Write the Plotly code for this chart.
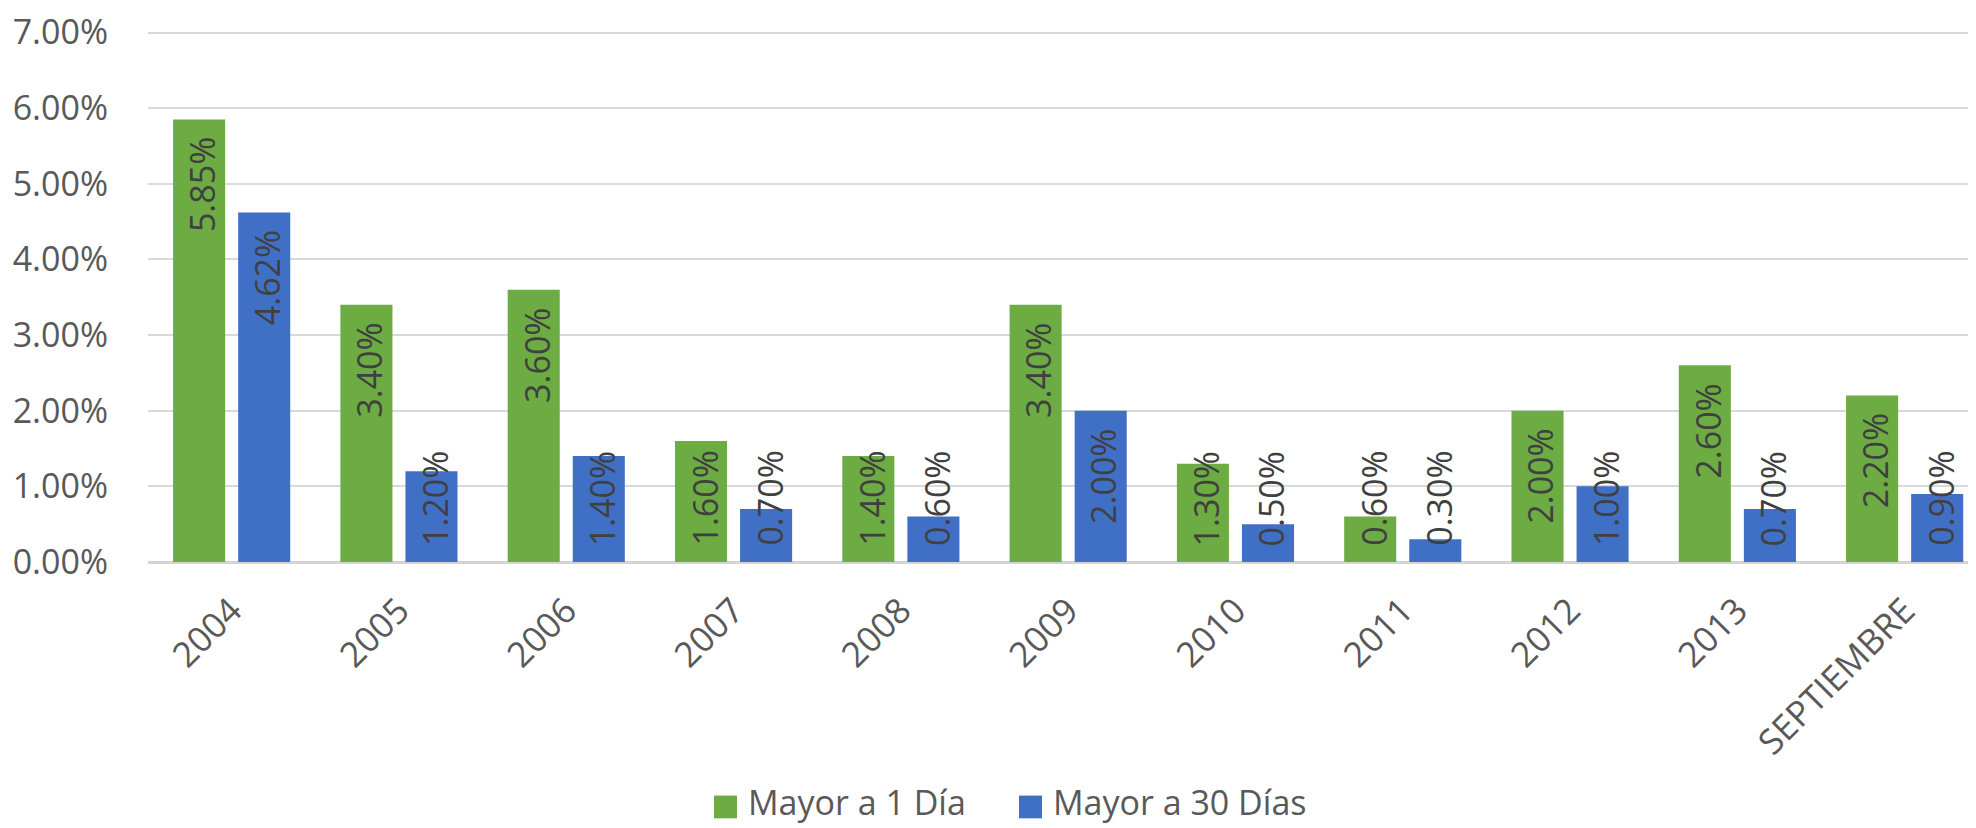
import plotly.graph_objects as go

categories = ["2004", "2005", "2006", "2007", "2008", "2009", "2010", "2011", "2012", "2013", "SEPTIEMBRE"]
mayor_1_dia = [0.0585, 0.034, 0.036, 0.016, 0.014, 0.034, 0.013, 0.006, 0.020, 0.026, 0.022]
mayor_30_dias = [0.0462, 0.012, 0.014, 0.007, 0.006, 0.020, 0.005, 0.003, 0.010, 0.007, 0.009]
series_names = ["Mayor a 1 Día", "Mayor a 30 Días"]
y_ticks = [0, 0.01, 0.02, 0.03, 0.04, 0.05, 0.06, 0.07]

GREEN = "#6cac43"
BLUE = "#4070c6"
TXT = "#404040"
AX = "#595959"
FONT = "Open Sans"
FS = 34

# page is 1976x828; the html body has an 8px margin, so the figure is 8px smaller
PAGE_OFF = 8
W, H = 1976 - PAGE_OFF, 828 - PAGE_OFF
MB = 266
ML, MR = 148 - PAGE_OFF, 0
Y_MAX = 0.07
Y_TOP = 0.0702
PX_PER_UNIT = 535 / Y_MAX
plot_h = PX_PER_UNIT * Y_TOP
MT = H - MB - plot_h
plot_w = W - ML - MR
LABEL_LEN_PX = 97  # approx rotated label length

fig = go.Figure()
idx = list(range(len(categories)))
fig.add_trace(go.Bar(x=idx, y=mayor_1_dia, name=series_names[0], marker=dict(color=GREEN, line=dict(width=0))))
fig.add_trace(go.Bar(x=idx, y=mayor_30_dias, name=series_names[1], marker=dict(color=BLUE, line=dict(width=0))))

half = 0.1945
annotations = []
for s, vals in enumerate([mayor_1_dia, mayor_30_dias]):
    off = -half if s == 0 else half
    for i, v in enumerate(vals):
        txt = f"{v*100:.2f}%"
        if v * PX_PER_UNIT - 14 - LABEL_LEN_PX >= 15:
            annotations.append(dict(x=i + off, y=v, xref="x", yref="y", text=txt, showarrow=False,
                                    textangle=-90, yanchor="top", xanchor="center", yshift=-16, xshift=3,
                                    font=dict(family=FONT, size=FS, color=TXT)))
        else:
            annotations.append(dict(x=i + off, y=0, xref="x", yref="y", text=txt, showarrow=False,
                                    textangle=-90, yanchor="bottom", xanchor="center", yshift=14, xshift=3,
                                    font=dict(family=FONT, size=FS, color=TXT)))

# manual legend (page pixel positions converted to paper coords)
PLOT_LEFT_PAGE = 148
PLOT_BOTTOM_PAGE = 562

def px_x(px):
    return (px - PLOT_LEFT_PAGE) / plot_w

def px_y(py):
    return (PLOT_BOTTOM_PAGE - py) / plot_h

shapes = []
leg_sq = [714, 1019]
leg_cols = [GREEN, BLUE]
for sx, col, nm in zip(leg_sq, leg_cols, series_names):
    shapes.append(dict(type="rect", xref="paper", yref="paper",
                       x0=px_x(sx), x1=px_x(sx + 23), y0=px_y(821), y1=px_y(798),
                       fillcolor=col, line=dict(width=0)))
    annotations.append(dict(xref="paper", yref="paper", x=px_x(sx + 33), y=px_y(805),
                            xanchor="left", yanchor="middle", text=nm, showarrow=False,
                            borderpad=0,
                            font=dict(family=FONT, size=FS, color=AX)))

fig.update_layout(
    width=W, height=H,
    margin=dict(l=ML, r=MR, t=MT, b=MB, pad=0),
    paper_bgcolor="white", plot_bgcolor="white",
    barmode="group", bargap=0.222, bargroupgap=0.2,
    font=dict(family=FONT, size=FS, color=AX),
    annotations=annotations, shapes=shapes,
    showlegend=False,
)
fig.update_xaxes(
    range=[-0.5, -0.5 + plot_w / 167.3],
    tickvals=idx, ticktext=categories, tickangle=-45,
    tickfont=dict(family=FONT, size=35, color=AX),
    showgrid=False, showline=False, zeroline=False, ticks="",
    ticklabelstandoff=20, ticklabeloverflow="allow",
)
fig.update_yaxes(
    range=[0, Y_TOP], tickvals=y_ticks, tickformat=".2%",
    tickfont=dict(family=FONT, size=FS, color=AX),
    showgrid=True, gridcolor="#d9d9d9", gridwidth=1.5,
    zeroline=True, zerolinecolor="#d4d4d4", zerolinewidth=3,
    showline=False, ticks="", ticklabelstandoff=39, ticklabeloverflow="allow",
)
fig.write_html("out.html")
